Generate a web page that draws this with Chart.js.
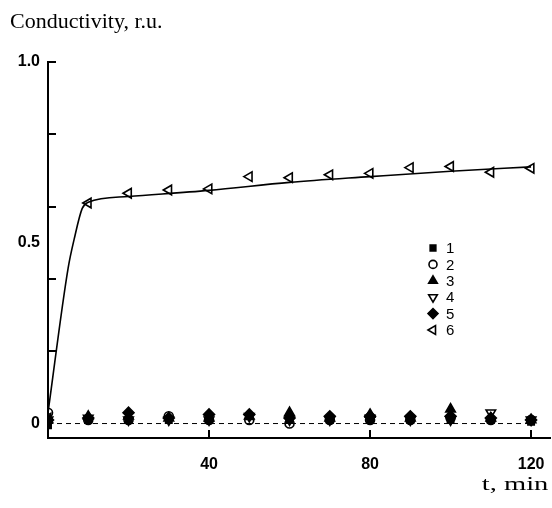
<!DOCTYPE html>
<html>
<head>
<meta charset="utf-8">
<script src="https://cdn.jsdelivr.net/npm/chart.js@4/dist/chart.umd.min.js"></script>
<style>
  html, body { margin: 0; padding: 0; background: #fff; }
  #wrap { position: relative; width: 552px; height: 508px; }
  #c { position: absolute; left: 0; top: 0; }
  .ttl { position: absolute; font-family: "Liberation Serif", "Times New Roman", serif; color: #000; white-space: nowrap; }
  #ytitle { left: 10px; top: 10px; font-size: 22px; line-height: 22px; }
  #xtitle { right: 4px; top: 474px; font-size: 19px; line-height: 19px; transform: scaleX(1.5); transform-origin: right center; }
</style>
</head>
<body>
<div id="wrap">
  <canvas id="c" width="552" height="508"></canvas>
  <div class="ttl" id="ytitle">Conductivity, r.u.</div>
  <div class="ttl" id="xtitle">t, min</div>
</div>
<script>
// sampling times, min
const times = [0, 10, 20, 30, 40, 50, 60, 70, 80, 90, 100, 110, 120];

// conductivity, relative units
const series1 = [-0.005, 0.01, 0.01, 0.01, 0.01, 0.02, 0.01, 0.01, 0.01, 0.01, 0.01, 0.01, 0.005];
const series2 = [0.03, 0.01, 0.01, 0.02, 0.01, 0.01, 0.0, 0.01, 0.01, 0.01, 0.015, 0.01, 0.01];
const series3 = [0.01, 0.02, 0.02, 0.015, 0.015, 0.02, 0.03, 0.015, 0.025, 0.015, 0.04, 0.015, 0.01];
const series4 = [0.01, 0.015, 0.01, 0.01, 0.01, 0.02, 0.01, 0.01, 0.015, 0.01, 0.01, 0.03, 0.01];
const series5 = [0.01, 0.015, 0.03, 0.015, 0.025, 0.025, 0.015, 0.02, 0.02, 0.02, 0.02, 0.015, 0.01];
const series6 = [0.015, 0.61, 0.637, 0.646, 0.649, 0.683, 0.68, 0.688, 0.692, 0.708, 0.711, 0.695, 0.706];

// smooth curve through series 6
const fitTimes = [0, 5, 6.5, 8.5, 10, 20, 40, 60, 80, 100, 120];
const fitValues = [0.03, 0.43, 0.51, 0.595, 0.612, 0.628, 0.645, 0.667, 0.683, 0.698, 0.71];

// baseline
const baseTimes = [0, 120];
const baseValues = [0, 0];

const legendLabels = ['1', '2', '3', '4', '5', '6'];
const xTickValues = [40, 80, 120];
const yTickValues = [0, 0.2, 0.4, 0.5, 0.6, 0.8, 1.0];
const yLabelled = [0, 0.5, 1.0];
const yMarked = [0.2, 0.4, 0.6, 0.8, 1.0];

const pts = (xs, ys) => xs.map((x, i) => ({ x: x, y: ys[i] }));

const markerStyles = [
  { pointStyle: 'rect', rotation: 0, fill: true, radius: 4.5 },
  { pointStyle: 'circle', rotation: 0, fill: false, radius: 4.5 },
  { pointStyle: 'triangle', rotation: 0, fill: true, radius: 5.5 },
  { pointStyle: 'triangle', rotation: 180, fill: false, radius: 5.5 },
  { pointStyle: 'rectRot', rotation: 0, fill: true, radius: 5.5 },
  { pointStyle: 'triangle', rotation: -90, fill: false, radius: 5.5 }
];
const seriesValues = [series1, series2, series3, series4, series5, series6];

const scatterSets = seriesValues.map((vals, i) => {
  const m = markerStyles[i];
  return {
    label: legendLabels[i],
    data: pts(times, vals),
    showLine: false,
    pointStyle: m.pointStyle,
    rotation: m.rotation,
    pointRadius: m.radius,
    pointBorderWidth: 1.6,
    pointBorderColor: '#000',
    pointBackgroundColor: m.fill ? '#000' : 'rgba(0,0,0,0)',
    order: 0
  };
});

const lineSets = [
  {
    label: 'fit',
    data: pts(fitTimes, fitValues),
    showLine: true,
    borderColor: '#000',
    borderWidth: 1.6,
    pointRadius: 0,
    cubicInterpolationMode: 'monotone',
    order: 1
  },
  {
    label: 'base',
    data: pts(baseTimes, baseValues),
    showLine: true,
    borderColor: '#000',
    borderWidth: 1,
    borderDash: [5, 4],
    pointRadius: 0,
    order: 1
  }
];

// inward tick marks on both axes
const innerTicks = {
  id: 'innerTicks',
  afterDatasetsDraw(chart) {
    const { ctx, chartArea, scales } = chart;
    ctx.save();
    ctx.strokeStyle = '#000';
    ctx.lineWidth = 2;
    ctx.beginPath();
    yMarked.forEach(v => {
      const y = Math.round(scales.y.getPixelForValue(v));
      ctx.moveTo(chartArea.left, y);
      ctx.lineTo(chartArea.left + 8, y);
    });
    xTickValues.forEach(v => {
      const x = Math.round(scales.x.getPixelForValue(v));
      ctx.moveTo(x, chartArea.bottom);
      ctx.lineTo(x, chartArea.bottom - 8);
    });
    ctx.stroke();
    ctx.restore();
  }
};

// legend block inside the plot
const markerLegend = {
  id: 'markerLegend',
  afterDraw(chart) {
    const { ctx } = chart;
    ctx.save();
    ctx.font = '15px "Liberation Sans", Arial, sans-serif';
    ctx.textBaseline = 'middle';
    ctx.textAlign = 'left';
    legendLabels.forEach((lab, i) => {
      const m = markerStyles[i];
      const y = 248 + i * 16.4;
      ctx.strokeStyle = '#000';
      ctx.fillStyle = m.fill ? '#000' : 'rgba(0,0,0,0)';
      ctx.lineWidth = 1.6;
      Chart.helpers.drawPoint(ctx, { pointStyle: m.pointStyle, rotation: m.rotation, radius: m.radius - 0.5, borderWidth: 1.6 }, 433, y);
      ctx.fillStyle = '#000';
      ctx.fillText(lab, 446, y + 1);
    });
    ctx.restore();
  }
};

const tickFont = { family: '"Liberation Sans", Arial, sans-serif', size: 16, weight: 'bold' };

new Chart(document.getElementById('c'), {
  type: 'scatter',
  data: { datasets: lineSets.concat(scatterSets) },
  options: {
    responsive: false,
    animation: false,
    events: [],
    layout: { autoPadding: false, padding: { top: 62, right: 2, left: 0, bottom: 0 } },
    plugins: { legend: { display: false }, tooltip: { enabled: false }, title: { display: false } },
    scales: {
      x: {
        type: 'linear',
        min: 0,
        max: 124.7,
        grid: { display: false, drawTicks: false },
        border: { display: true, color: '#000', width: 2 },
        afterBuildTicks: s => { s.ticks = xTickValues.map(v => ({ value: v })); },
        afterFit: s => { s.height = 70; s.paddingLeft = 0; s.paddingRight = 0; },
        ticks: { color: '#000', font: tickFont, padding: 17, maxRotation: 0 }
      },
      y: {
        type: 'linear',
        min: -0.04,
        max: 1.0,
        grid: { display: false, drawTicks: false },
        border: { display: true, color: '#000', width: 2 },
        afterBuildTicks: s => { s.ticks = yTickValues.map(v => ({ value: v })); },
        afterFit: s => { s.width = 48; },
        ticks: {
          color: '#000',
          font: tickFont,
          padding: 8,
          callback: v => {
            if (!yLabelled.includes(v)) return '';
            return v === 0 ? '0' : v.toFixed(1);
          }
        }
      }
    }
  },
  plugins: [innerTicks, markerLegend]
});
</script>
</body>
</html>
